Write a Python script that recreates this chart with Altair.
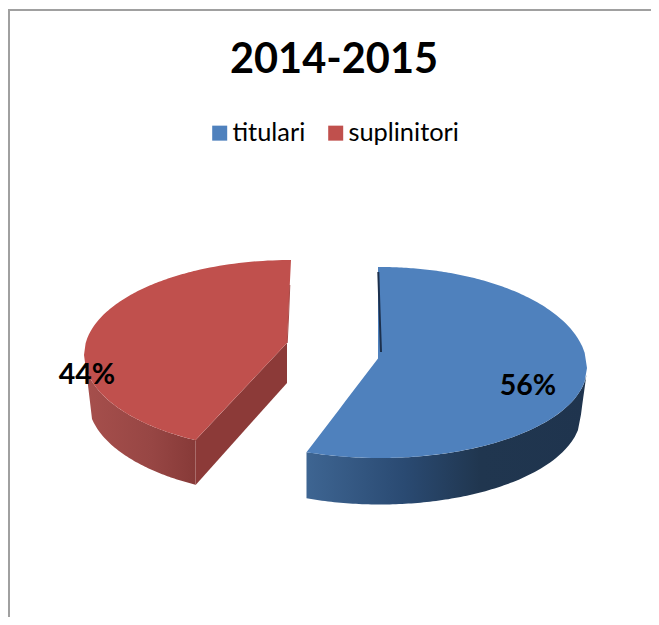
import numpy as np
import pandas as pd
import altair as alt

title_text = "2014-2015"
categories = ["titulari", "suplinitori"]
shares = [56, 44]
labels = ["56%", "44%"]
colors = ["#4F81BD", "#C0504D"]

# projection of the tilted pie (page pixels)
BLUE = dict(cx=380, cy=368, rx=207, back=101, front=90, depth=46, skew=-0.8, apex=(380, 356), tip=(378, 267))
RED = dict(cx=291, cy=355, rx=207, back=95, front=96, depth=45, skew=5.9, apex=(287, 343), tip=(291, 260))

split_angle = np.radians(360 * shares[0] / sum(shares))


def front_y(p, x, rx=None, extra=0):
    rx = rx or p["rx"]
    u = np.clip((np.asarray(x, float) - p["cx"]) / rx, -1, 1)
    return p["cy"] + extra + p["front"] * np.sqrt(1 - u ** 2)


def back_y(p, x):
    u = np.clip((np.asarray(x, float) - p["cx"]) / p["rx"], -1, 1)
    return p["cy"] - p["back"] * np.sqrt(1 - u ** 2)


def corner(p):
    a = split_angle + np.radians(p["skew"])
    x = p["cx"] + p["rx"] * np.sin(a)
    return x, float(front_y(p, x))


# ---- blue slice
bx0, by0 = corner(BLUE)
bx = np.concatenate([np.linspace(bx0, BLUE["tip"][0], 12), np.linspace(BLUE["tip"][0] + 0.01, 587, 90)])
b_top = np.where(
    bx <= BLUE["tip"][0],
    by0 + (BLUE["apex"][1] - by0) * (bx - bx0) / (BLUE["apex"][0] - bx0),
    back_y(BLUE, bx),
)
b_bot = front_y(BLUE, bx)
blue_face = pd.DataFrame({"x": bx, "y": b_top, "y2": b_bot, "cat": categories[0]})

# side wall: the lower rim is a slightly narrower ellipse, closed by a short edge
b_rim_end = 581
wx = np.unique(np.concatenate([np.linspace(bx0, b_rim_end, 90), np.linspace(b_rim_end, 586.5, 6)]))
w_top = front_y(BLUE, wx)
w_rim = front_y(BLUE, wx, rx=201, extra=BLUE["depth"] + 0.5)
w_close = float(front_y(BLUE, b_rim_end, rx=201, extra=BLUE["depth"]))
w_bot = np.where(
    wx <= b_rim_end,
    w_rim,
    w_close + (front_y(BLUE, 586.5) - w_close) * (wx - b_rim_end) / (586.5 - b_rim_end),
)
blue_wall = pd.DataFrame({"x": wx, "y": w_top, "y2": w_bot})

# ---- red slice
rx0, ry0 = corner(RED)
rx_all = np.concatenate([np.linspace(84, rx0, 70), np.linspace(rx0 + 0.01, RED["apex"][0], 20), np.linspace(RED["apex"][0] + 0.01, RED["tip"][0], 4)])
r_top = back_y(RED, rx_all)
r_bot = np.where(
    rx_all <= rx0,
    front_y(RED, rx_all),
    np.where(
        rx_all <= RED["apex"][0],
        ry0 + (RED["apex"][1] - ry0) * (rx_all - rx0) / (RED["apex"][0] - rx0),
        RED["apex"][1] + (RED["tip"][1] - RED["apex"][1]) * (rx_all - RED["apex"][0]) / (RED["tip"][0] - RED["apex"][0]),
    ),
)
red_face = pd.DataFrame({"x": rx_all, "y": r_top, "y2": r_bot, "cat": categories[1]})

wrx = np.unique(np.concatenate([np.linspace(86, 92, 7), np.linspace(92, rx0, 60)]))
wr_top = front_y(RED, wrx)
wr_rim = front_y(RED, wrx, rx=203, extra=RED["depth"])
wr_bot = np.where(
    wrx >= 92, wr_rim,
    front_y(RED, 86) + (float(front_y(RED, 92, rx=203, extra=RED["depth"])) - front_y(RED, 86)) * (wrx - 86) / 6,
)
red_wall = pd.DataFrame({"x": wrx, "y": wr_top, "y2": wr_bot})
red_cut = pd.DataFrame({"x": [rx0, RED["apex"][0]], "y": [ry0, RED["apex"][1]], "y2": [ry0 + RED["depth"], RED["apex"][1] + 40]})

blue_edge = pd.DataFrame({"x": [378.3, 379.5, 381], "y": [272, 310, 352]})
red_edge = pd.DataFrame({"x": [289.8, 288.6, 287.2], "y": [285, 315, 343]})

xs = alt.Scale(domain=[8, 651], nice=False, zero=False)
ys = alt.Scale(domain=[617, 8], nice=False, zero=False)
X = alt.X("x:Q", scale=xs, axis=None)
Y = alt.Y("y:Q", scale=ys, axis=None)
Y2 = alt.Y2("y2:Q")


def grad(stops):
    return alt.Gradient(
        gradient="linear", x1=0, y1=0, x2=1, y2=0,
        stops=[alt.GradientStop(offset=o, color=c) for o, c in stops],
    )


wall_b = alt.Chart(blue_wall).mark_area(
    color=grad([(0, "#3E6592"), (0.35, "#2A4A72"), (0.62, "#20364F"), (1, "#1F344E")]), interpolate="linear"
).encode(x=X, y=Y, y2=Y2)
wall_r = alt.Chart(red_wall).mark_area(
    color=grad([(0, "#A64F4C"), (0.6, "#974644"), (1, "#873A38")]), interpolate="linear"
).encode(x=X, y=Y, y2=Y2)
cut_r = alt.Chart(red_cut).mark_area(color="#8C3A38").encode(x=X, y=Y, y2=Y2)

color = alt.Color(
    "cat:N",
    scale=alt.Scale(domain=categories, range=colors),
    legend=alt.Legend(
        orient="none", legendX=199, legendY=112, direction="horizontal", title=None,
        symbolType="square", symbolSize=225, symbolStrokeWidth=0, symbolOpacity=1,
        labelFont="Lato", labelFontSize=25.4, labelColor="#000000", labelOffset=0,
        columnPadding=17, columns=2, labelLimit=200,
    ),
)
face = alt.Chart(pd.concat([blue_face, red_face])).mark_area(interpolate="linear", opacity=1).encode(
    x=X, y=Y, y2=Y2, color=color, detail="cat:N"
)
edge_b = alt.Chart(blue_edge).mark_line(color="#1C304D", strokeWidth=2).encode(x=X, y=Y)
edge_r = alt.Chart(red_edge).mark_line(color="#A84A47", strokeWidth=1).encode(x=X, y=Y)

frame_top = alt.Chart(pd.DataFrame({"x": [8], "x2": [651], "y": [10]})).mark_rule(color="#A0A0A0", strokeWidth=2).encode(
    x=X, x2="x2:Q", y=Y
)
frame_left = alt.Chart(pd.DataFrame({"x": [9], "y": [10], "y2": [617]})).mark_rule(color="#A0A0A0", strokeWidth=2).encode(
    x=X, y=Y, y2=Y2
)

title = alt.Chart(pd.DataFrame({"x": [334], "y": [61], "t": [title_text]})).mark_text(
    font="Lato", fontSize=41.5, fontWeight="bold", color="#000000", align="center", baseline="middle"
).encode(x=X, y=Y, text="t:N")

pct = alt.Chart(pd.DataFrame({"x": [528, 87], "y": [386, 375], "t": labels})).mark_text(
    font="Lato", fontSize=28.5, fontWeight="bold", color="#000000", align="center", baseline="middle"
).encode(x=X, y=Y, text="t:N")

chart = alt.layer(
    frame_top, frame_left, wall_b, wall_r, cut_r, face, edge_b, edge_r, title, pct
).properties(
    width=643, height=609, padding=0, background="#FFFFFF",
    autosize=alt.AutoSizeParams(type="none"),
).configure_view(stroke=None)

chart.save("out.html", embed_options={"renderer": "svg", "actions": False})
